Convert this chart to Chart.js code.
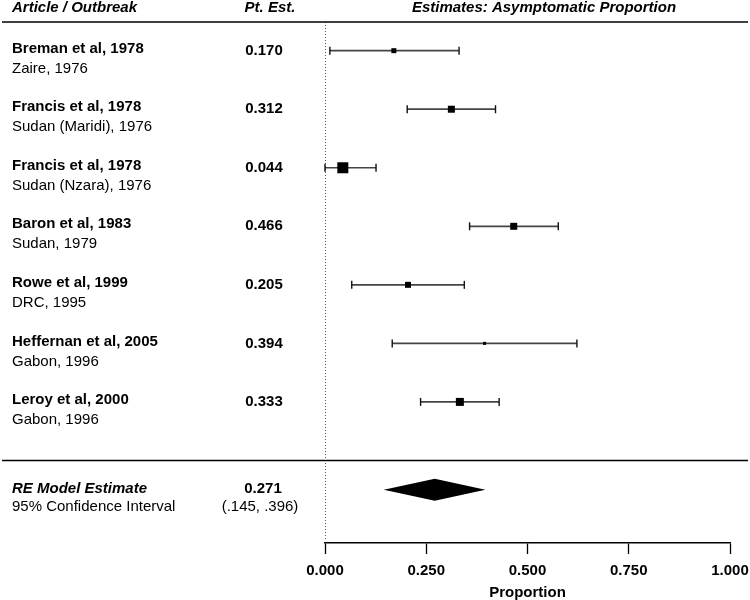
<!DOCTYPE html>
<html>
<head>
<meta charset="utf-8">
<script src="https://cdn.jsdelivr.net/npm/chart.js@4/dist/chart.umd.min.js"></script>
<style>
  html, body { margin: 0; padding: 0; background: #fff; }
  #wrap { width: 750px; height: 600px; position: relative; }
</style>
</head>
<body>
<div id="wrap"><canvas id="c" width="750" height="600"></canvas></div>
<script>
// ---- data ----
const studies = ["Breman et al, 1978", "Francis et al, 1978", "Francis et al, 1978", "Baron et al, 1983", "Rowe et al, 1999", "Heffernan et al, 2005", "Leroy et al, 2000"];
const outbreaks = ["Zaire, 1976", "Sudan (Maridi), 1976", "Sudan (Nzara), 1976", "Sudan, 1979", "DRC, 1995", "Gabon, 1996", "Gabon, 1996"];
const estimates = [0.170, 0.312, 0.044, 0.466, 0.205, 0.394, 0.333];
const lowerCI = [0.012, 0.203, 0.000, 0.357, 0.066, 0.166, 0.236];
const upperCI = [0.331, 0.421, 0.126, 0.576, 0.344, 0.622, 0.430];
const weights = [5, 7, 11, 7, 6, 3, 8];
const pooledEst = 0.271;
const pooledLower = 0.145;
const pooledUpper = 0.396;
const xTicks = [0, 0.25, 0.5, 0.75, 1];
const headers = ["Article / Outbreak", "Pt. Est.", "Estimates: Asymptomatic Proportion"];
const pooledLabel = "RE Model Estimate";
const pooledSub = "95% Confidence Interval";
const axisTitle = "Proportion";

// ---- layout helpers ----
const FONT = "'Liberation Sans', Arial, Helvetica, sans-serif";
const FS = 15;
const rows = studies.map((s, i) => i);
const pooledRow = 7.5;
const sepRow = 7.0;

const forestPlugin = {
  id: 'forest',
  beforeDatasetsDraw(chart) {
    const ctx = chart.ctx;
    const xs = chart.scales.x, ys = chart.scales.y;
    const area = chart.chartArea;
    ctx.save();
    // dotted reference line at 0
    ctx.strokeStyle = '#555';
    ctx.lineWidth = 1;
    ctx.setLineDash([1, 2]);
    const x0 = Math.round(xs.getPixelForValue(0)) + 0.5;
    ctx.beginPath();
    ctx.moveTo(x0, area.top);
    ctx.lineTo(x0, area.bottom - 3);
    ctx.stroke();
    ctx.setLineDash([]);
    // horizontal separator lines
    ctx.strokeStyle = '#000';
    ctx.lineWidth = 1.5;
    [ys.min, sepRow].forEach(v => {
      const y = ys.getPixelForValue(v);
      ctx.beginPath();
      ctx.moveTo(2, y);
      ctx.lineTo(748, y);
      ctx.stroke();
    });
    // whiskers
    rows.forEach(i => {
      const y = ys.getPixelForValue(i);
      const xl = xs.getPixelForValue(lowerCI[i]);
      const xr = xs.getPixelForValue(upperCI[i]);
      ctx.strokeStyle = '#444';
      ctx.lineWidth = 1.7;
      ctx.beginPath();
      ctx.moveTo(xl, y);
      ctx.lineTo(xr, y);
      ctx.stroke();
      ctx.strokeStyle = '#111';
      ctx.lineWidth = 1.4;
      [xl, xr].forEach(xx => {
        ctx.beginPath();
        ctx.moveTo(xx, y - 4);
        ctx.lineTo(xx, y + 4);
        ctx.stroke();
      });
    });
    // pooled diamond
    const yd = ys.getPixelForValue(pooledRow);
    ctx.fillStyle = '#000';
    ctx.beginPath();
    ctx.moveTo(xs.getPixelForValue(pooledLower), yd);
    ctx.lineTo(xs.getPixelForValue(pooledEst), yd - 11);
    ctx.lineTo(xs.getPixelForValue(pooledUpper), yd);
    ctx.lineTo(xs.getPixelForValue(pooledEst), yd + 11);
    ctx.closePath();
    ctx.fill();
    ctx.restore();
  },
  afterDraw(chart) {
    const ctx = chart.ctx;
    const ys = chart.scales.y;
    ctx.save();
    ctx.fillStyle = '#000';
    ctx.textBaseline = 'middle';
    // headers
    ctx.font = `italic bold ${FS}px ${FONT}`;
    ctx.textAlign = 'left';
    ctx.fillText(headers[0], 12, 8);
    ctx.textAlign = 'center';
    ctx.fillText(headers[1], 270, 8);
    ctx.fillText(headers[2], 544, 8);
    // rows
    rows.forEach(i => {
      const y = ys.getPixelForValue(i);
      ctx.textAlign = 'left';
      ctx.font = `bold ${FS}px ${FONT}`;
      ctx.fillText(studies[i], 12, y - 2);
      ctx.font = `${FS}px ${FONT}`;
      ctx.fillText(outbreaks[i], 12, y + 18);
      ctx.textAlign = 'center';
      ctx.font = `bold ${FS}px ${FONT}`;
      ctx.fillText(estimates[i].toFixed(3), 264, y);
    });
    // pooled text
    const yp = ys.getPixelForValue(pooledRow);
    ctx.textAlign = 'left';
    ctx.font = `italic bold ${FS}px ${FONT}`;
    ctx.fillText(pooledLabel, 12, yp - 1);
    ctx.font = `${FS}px ${FONT}`;
    ctx.fillText(pooledSub, 12, yp + 17);
    ctx.textAlign = 'center';
    ctx.font = `bold ${FS}px ${FONT}`;
    ctx.fillText(pooledEst.toFixed(3), 263, yp - 1);
    ctx.font = `${FS}px ${FONT}`;
    const f = v => v.toFixed(3).replace(/^0/, '');
    ctx.fillText(`(${f(pooledLower)}, ${f(pooledUpper)})`, 260, yp + 17);
    ctx.restore();
  }
};

new Chart(document.getElementById('c'), {
  type: 'scatter',
  data: {
    datasets: [{
      data: estimates.map((e, i) => ({ x: e, y: rows[i] })),
      pointStyle: 'rect',
      pointRadius: weights.map(w => w / Math.SQRT2),
      pointHoverRadius: weights.map(w => w / Math.SQRT2),
      backgroundColor: '#000',
      borderColor: '#000',
      borderWidth: 0
    }]
  },
  options: {
    responsive: false,
    animation: false,
    events: [],
    layout: { padding: { left: 325, right: 20, top: 22, bottom: 0 } },
    plugins: { legend: { display: false }, tooltip: { enabled: false } },
    scales: {
      y: {
        type: 'linear', display: false, reverse: true, min: -0.49, max: 8.41
      },
      x: {
        type: 'linear', min: 0, max: 1,
        afterBuildTicks: axis => { axis.ticks = xTicks.map(v => ({ value: v })); },
        afterFit: axis => { axis.height = 57; axis.paddingLeft = 0; axis.paddingRight = 0; },
        grid: { drawOnChartArea: false, drawTicks: true, tickLength: 11, color: '#000', tickWidth: 1.3 },
        border: { display: true, color: '#000', width: 1.5 },
        ticks: {
          color: '#000', padding: 8, maxRotation: 0,
          font: { family: FONT, size: FS, weight: 'bold' },
          callback: v => Number(v).toFixed(3)
        },
        title: {
          display: true, text: axisTitle, color: '#000',
          padding: { top: 4, bottom: -2 },
          font: { family: FONT, size: FS, weight: 'bold' }
        }
      }
    }
  },
  plugins: [forestPlugin]
});
</script>
</body>
</html>
